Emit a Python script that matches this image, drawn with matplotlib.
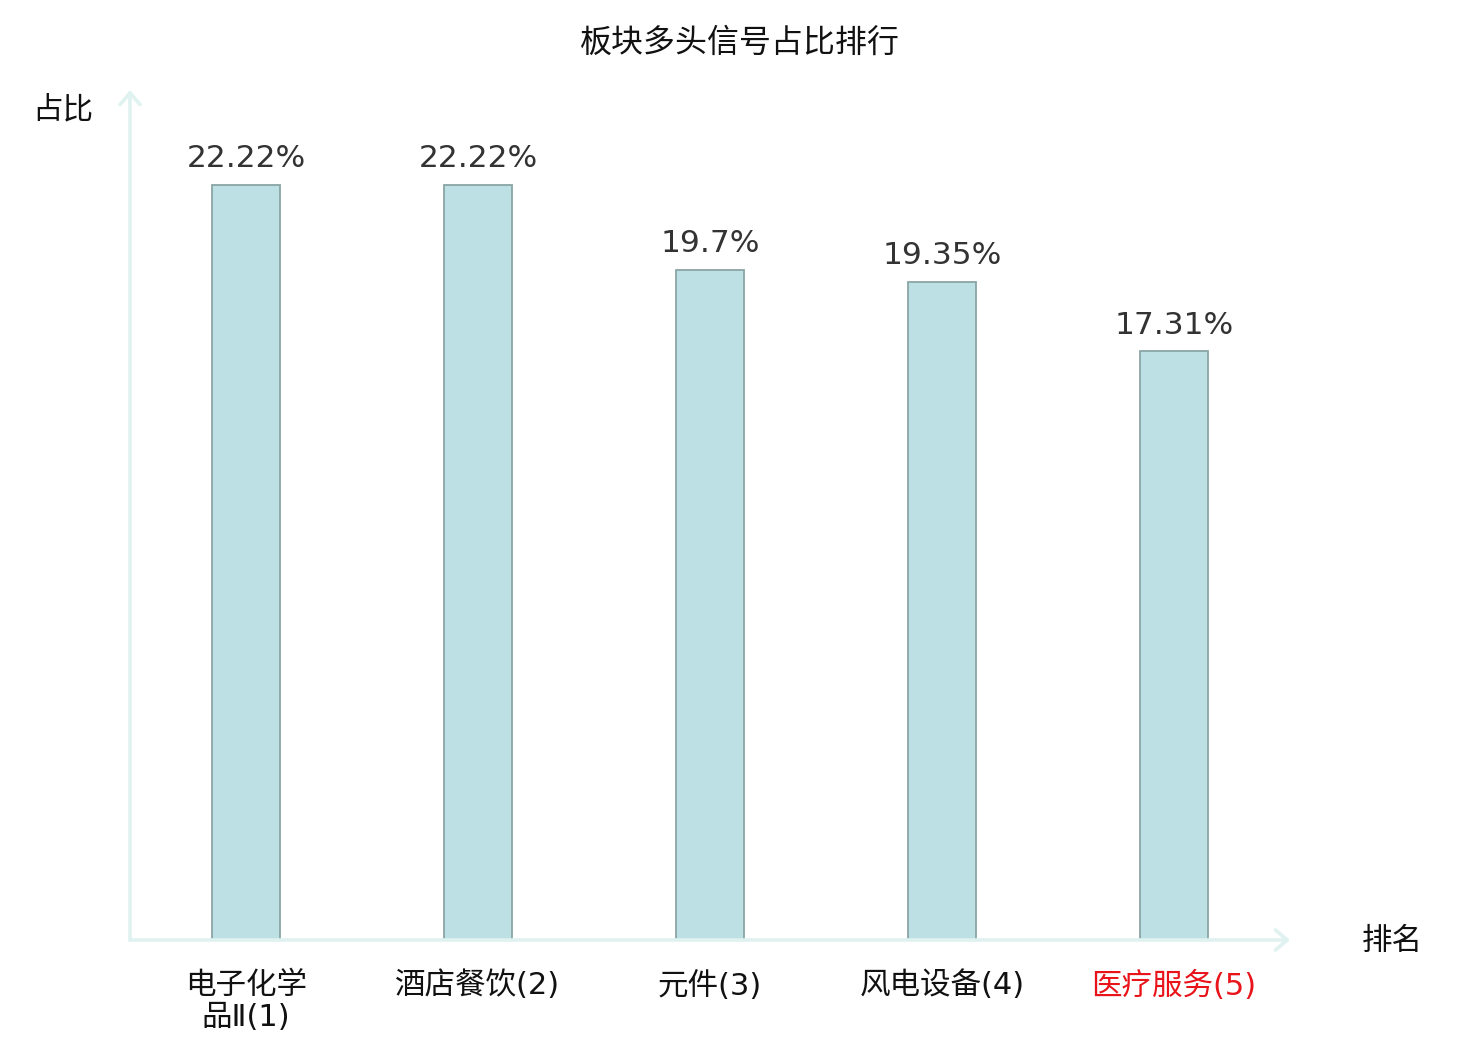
import numpy as np
import matplotlib.pyplot as plt

plt.rcParams['font.family'] = ['DejaVu Sans', 'Noto Sans CJK SC']

sectors = ["电子化学\n品Ⅱ(1)", "酒店餐饮(2)", "元件(3)", "风电设备(4)", "医疗服务(5)"]
ratios = [22.22, 22.22, 19.7, 19.35, 17.31]
label_colors = ["#111111", "#111111", "#111111", "#111111", "#e8141a"]

fig = plt.figure(figsize=(14.8, 10.4), dpi=100)
ax = fig.add_axes([130/1480, 100/1040, 1160/1480, 850/1040])

x = np.arange(len(sectors))
ax.bar(x, ratios, width=0.293, color="#bce0e3", edgecolor="#8aa5a5", linewidth=1.3, zorder=3)

for xi, v in zip(x, ratios):
    ax.text(xi, v + 0.35, f"{v}%", ha="center", va="bottom", fontsize=22.5,
            color="#333333")

ax.set_xlim(-0.5, 4.5)
ax.set_ylim(0, 25)
for s in ax.spines.values():
    s.set_visible(False)
ax.set_yticks([])
ax.set_xticks(x)
ax.set_xticklabels(sectors, fontsize=22, linespacing=1.15)
for lbl, c in zip(ax.get_xticklabels(), label_colors):
    lbl.set_color(c)
ax.tick_params(axis="x", length=0, pad=22)

axis_color = "#dff2ef"
arrow = dict(arrowstyle="->,head_length=0.85,head_width=0.72", color=axis_color, lw=2.6,
             shrinkA=0, shrinkB=0)
ax.annotate("", xy=(0, 1.0), xytext=(0, 0), xycoords="axes fraction",
            arrowprops=arrow, annotation_clip=False)
ax.annotate("", xy=(1.0, 0), xytext=(0, 0), xycoords="axes fraction",
            arrowprops=arrow, annotation_clip=False)

fig.text(63/1480, 1 - 110/1040, "占比", ha="center", va="center", fontsize=22, color="#111111")
fig.text(1392/1480, 1 - 941/1040, "排名", ha="center", va="center", fontsize=22, color="#111111")
fig.text(740/1480, 1 - 43/1040, "板块多头信号占比排行", ha="center", va="center", fontsize=23, color="#111111")

fig.savefig("out.png", dpi=100)
